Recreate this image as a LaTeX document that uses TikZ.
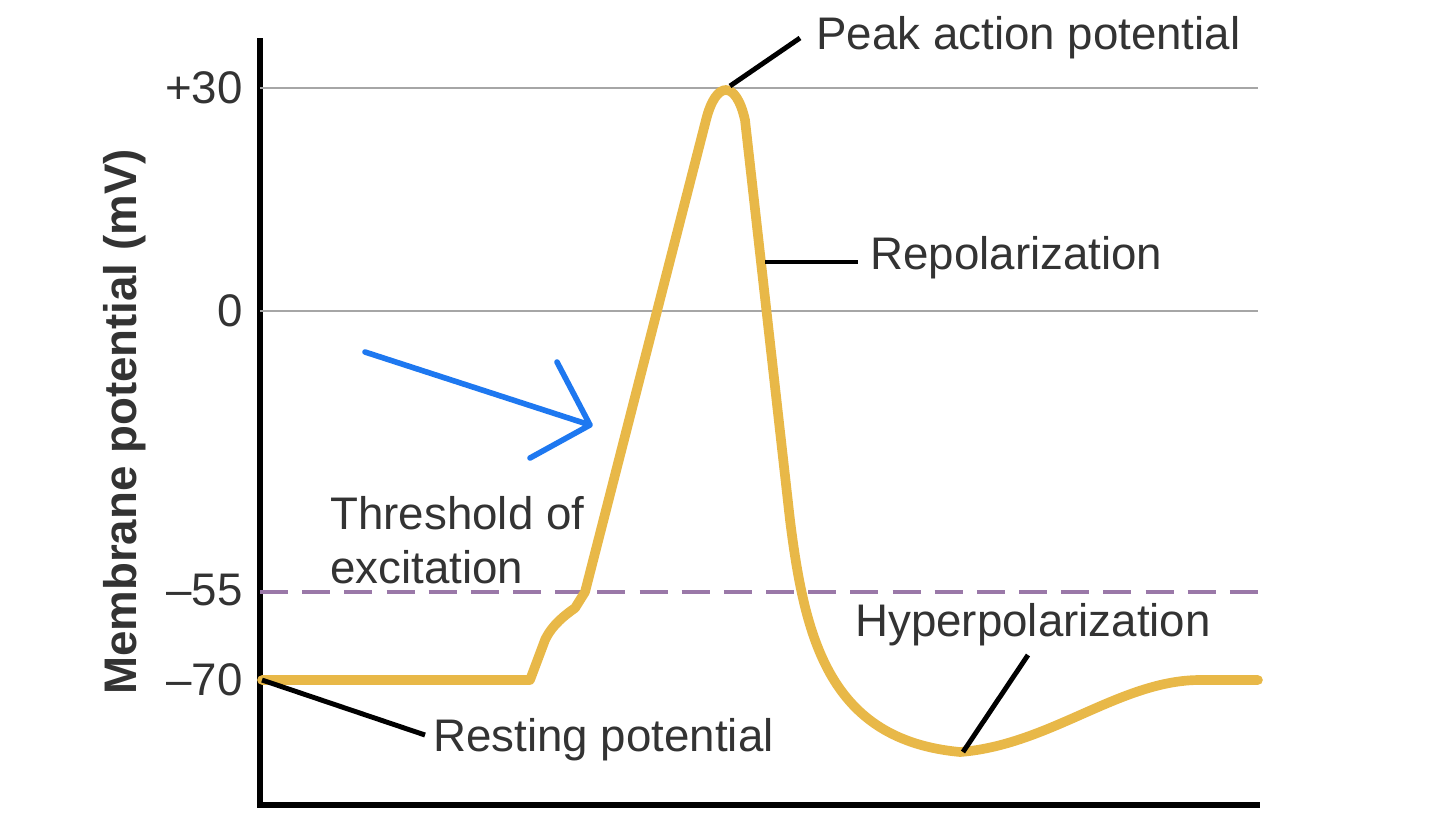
\documentclass[tikz,border=0pt]{standalone}
\usepackage{fontspec}
\setmainfont{Liberation Sans}
\usetikzlibrary{positioning}
\definecolor{curvecol}{HTML}{E8B848}
\definecolor{threshcol}{HTML}{9A78A8}
\definecolor{arrowcol}{HTML}{1E78F0}
\begin{document}
\begin{tikzpicture}[x=0.02cm,y=-0.02cm,
    lbl/.style={font=\fontsize{26}{31}\selectfont, text=black!80, inner sep=0pt},
    tick/.style={lbl, anchor=east},
    grid/.style={gray!70, line width=1.5pt},
    leader/.style={black, line width=2.8pt}]
  \useasboundingbox (0,0) rectangle (1440,812);
  % axes
  \coordinate (o) at (260,805);
  \draw[line width=3pt] (260,38) -- (o) -- (1260,805);
  % reference lines
  \draw[grid] (260,88) -- (1258,88);
  \draw[grid] (260,311) -- (1258,311);
  \draw[threshcol, line width=2pt, dash pattern=on 16pt off 8pt] (260,592) -- (1258,592);
  % tick labels
  \node[tick] (t30) at (243,88) {+30};
  \node[tick] (t0) at (243,311) {0};
  \node[tick] (t55) at (243,590) {--55};
  \node[tick] (t70) at (243,680) {--70};
  \node[lbl, font=\fontsize{26}{31}\selectfont\bfseries, rotate=90] (ylab) at (125,422) {Membrane potential (mV)};
  % action potential curve
  \draw[curvecol, line width=5.5pt, line join=round, line cap=round]
    (262,680) -- (530,680) -- (545,640) .. controls (552,625) and (565,615) .. (575,608)
    -- (585,592) -- (706,120) .. controls (716,80) and (736,80) .. (745,120)
    -- (790,520) .. controls (805,640) and (830,740) .. (960,752)
    .. controls (1050,745) and (1120,680) .. (1200,680) -- (1258,680);
  % labels and leaders
  \node[lbl, anchor=west] (peak) at (816,38) {Peak action potential};
  \draw[leader] (730,86) -- (800,38);
  \node[lbl, anchor=west] (repol) at (870,258) {Repolarization};
  \draw[leader] (765,262) -- (858,262);
  \node[lbl, anchor=west] (hyper) at (855,625) {Hyperpolarization};
  \draw[leader] (963,752) -- (1028,655);
  \node[lbl, anchor=west] (rest) at (433,740) {Resting potential};
  \draw[leader] (262,680) -- (425,735);
  \node[lbl, anchor=west, align=left] (thresh) at (330,540) {Threshold of\\excitation};
  % blue hand-drawn arrow
  \coordinate (ab) at (365,352);
  \coordinate (at) at (590,425);
  \draw[arrowcol, line width=3.2pt, line cap=round, line join=round]
    (ab) -- (at) (557,362) -- (at) -- (530,458);
\end{tikzpicture}
\end{document}
